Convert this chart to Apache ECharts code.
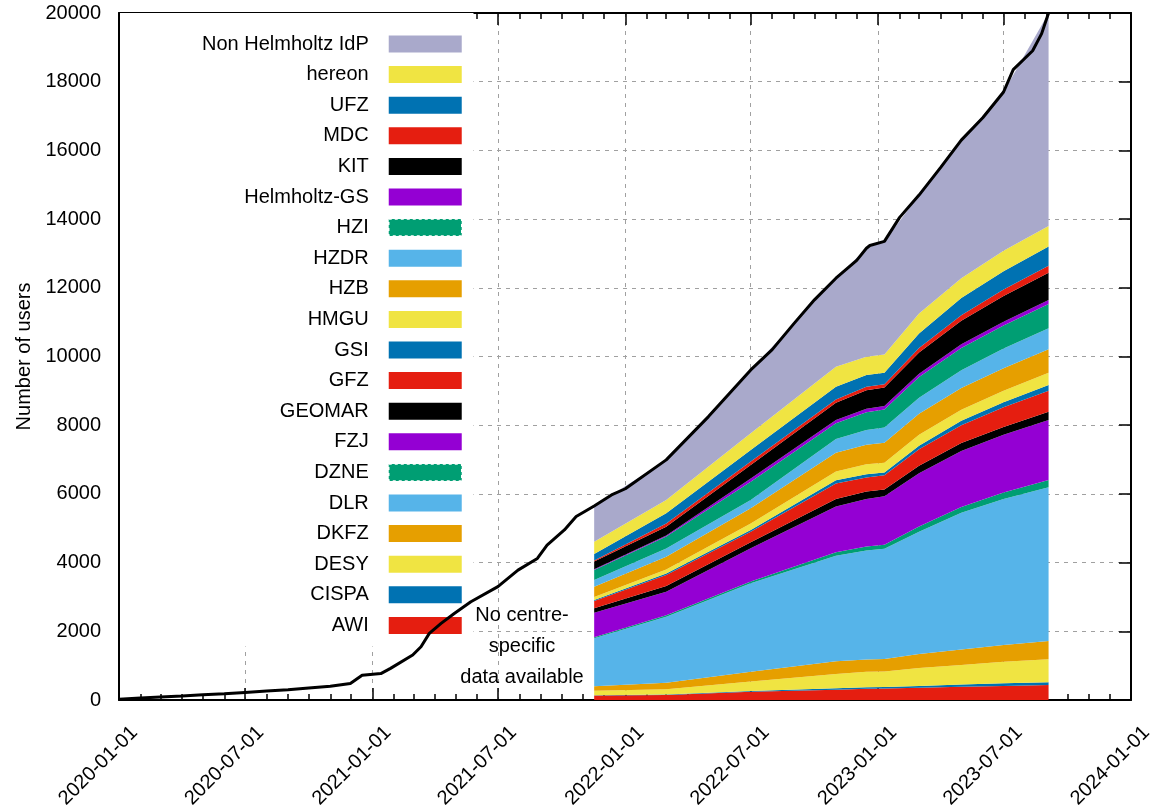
<!DOCTYPE html>
<html>
<head>
<meta charset="utf-8">
<script src="https://cdn.jsdelivr.net/npm/echarts@6/dist/echarts.min.js"></script>
<style>
  html, body { margin: 0; padding: 0; background: #fff; }
  #chart { width: 1150px; height: 812px; }
</style>
</head>
<body>
<div id="chart"></div>
<script>
// total number of users over time (black line)
const totalDates = [
  '2020-01-01', '2020-02-01', '2020-03-01', '2020-04-01', '2020-05-01', '2020-06-01',
  '2020-07-01', '2020-08-01', '2020-09-01', '2020-10-01', '2020-11-01', '2020-11-30',
  '2020-12-17', '2021-01-13', '2021-01-27', '2021-02-28', '2021-03-12', '2021-03-24',
  '2021-04-10', '2021-04-29', '2021-05-23', '2021-07-01', '2021-07-30', '2021-08-27',
  '2021-09-10', '2021-10-05', '2021-10-22', '2021-11-17', '2021-12-12', '2022-01-01',
  '2022-03-01', '2022-05-01', '2022-07-01', '2022-08-01', '2022-09-01', '2022-10-01',
  '2022-11-01', '2022-12-01', '2022-12-15', '2022-12-20', '2023-01-10', '2023-02-01',
  '2023-03-01', '2023-04-01', '2023-05-01', '2023-06-01', '2023-07-01', '2023-07-15',
  '2023-08-12', '2023-08-25', '2023-09-04'
]
const totalUsers = [
  20, 60, 90, 120, 150, 180,
  220, 260, 300, 350, 400, 480,
  720, 770, 920, 1310, 1550, 1940,
  2230, 2520, 2860, 3300, 3780, 4120,
  4510, 4950, 5340, 5650, 5970, 6150,
  6990, 8250, 9610, 10200, 10950, 11650,
  12280, 12800, 13150, 13230, 13350, 14050,
  14700, 15500, 16300, 16950, 17700, 18350,
  18900, 19400, 20000
]

// centre-specific users (stacked areas)
const stackDates = [
  '2021-11-17', '2022-03-01', '2022-07-01', '2022-11-01', '2022-12-15',
  '2023-01-10', '2023-03-01', '2023-05-01', '2023-07-01', '2023-09-04'
]
const awi = [130, 145, 243, 300, 330, 335, 360, 385, 410, 435]
const cispa = [10, 15, 17, 40, 40, 40, 50, 65, 75, 85]
const desy = [130, 150, 275, 420, 450, 455, 520, 570, 625, 665]
const dkfz = [130, 195, 290, 370, 360, 365, 410, 450, 490, 535]
const dlr = [1400, 1920, 2575, 3070, 3170, 3205, 3560, 3980, 4250, 4470]
const dzne = [30, 45, 50, 100, 120, 120, 150, 170, 190, 215]
const fzj = [710, 680, 965, 1330, 1380, 1410, 1550, 1630, 1680, 1745]
const geomar = [130, 170, 175, 220, 220, 200, 220, 230, 230, 245]
const gfz = [210, 320, 310, 450, 410, 410, 480, 520, 570, 605]
const gsi = [30, 40, 50, 100, 90, 80, 100, 130, 150, 170]
const hmgu = [90, 120, 190, 250, 290, 290, 320, 320, 330, 360]
const hzb = [300, 370, 440, 550, 570, 580, 610, 630, 660, 680]
const hzdr = [190, 240, 240, 400, 430, 440, 470, 520, 570, 610]
const hzi = [295, 350, 535, 455, 520, 530, 600, 650, 670, 710]
const helmholtzGs = [25, 30, 95, 95, 100, 100, 100, 110, 110, 115]
const kit = [220, 255, 390, 500, 540, 540, 620, 680, 750, 795]
const mdc = [30, 95, 100, 100, 100, 90, 130, 160, 190, 205]
const ufz = [190, 295, 340, 370, 340, 340, 420, 500, 530, 555]
const hereon = [360, 385, 485, 580, 530, 530, 580, 580, 600, 600]
const nonHelmholtz = [1040, 1170, 1845, 2580, 3160, 3290, 3450, 4020, 4620, 6200]

const centres = [
  ['AWI', awi], ['CISPA', cispa], ['DESY', desy], ['DKFZ', dkfz], ['DLR', dlr],
  ['DZNE', dzne], ['FZJ', fzj], ['GEOMAR', geomar], ['GFZ', gfz], ['GSI', gsi],
  ['HMGU', hmgu], ['HZB', hzb], ['HZDR', hzdr], ['HZI', hzi], ['Helmholtz-GS', helmholtzGs],
  ['KIT', kit], ['MDC', mdc], ['UFZ', ufz], ['hereon', hereon], ['Non Helmholtz IdP', nonHelmholtz]
]

// gnuplot-like colour cycle
const palette = ['#e51e10', '#0072b2', '#f0e442', '#e69f00', '#56b4e9', '#009e73', '#9400d3', '#000000']
const colorOf = (i) => (i === centres.length - 1 ? '#a9a9cb' : palette[i % palette.length])
// these two keys are drawn with a dashed edge in the original
const dashedKeys = ['DZNE', 'HZI']

const FONT = "'Liberation Sans', Arial, sans-serif"

const toTime = (s) => {
  const [y, m, d] = s.split('-').map(Number)
  return new Date(y, m - 1, d).getTime()
}

// tick positions: every month (minor), every half year (major)
const majorTicks = []
const minorTicks = []
for (let y = 2020; y <= 2024; y++) {
  for (let m = 0; m < 12; m++) {
    if (y === 2024 && m > 0) break
    const t = new Date(y, m, 1).getTime()
    minorTicks.push(t)
    if (m % 6 === 0) majorTicks.push(t)
  }
}
const xMin = majorTicks[0]
const xMax = majorTicks[majorTicks.length - 1]

const pad2 = (n) => (n < 10 ? '0' + n : '' + n)
const fmtDate = (v) => {
  const d = new Date(v)
  return d.getFullYear() + '-' + pad2(d.getMonth() + 1) + '-' + pad2(d.getDate())
}

const chart = echarts.init(document.getElementById('chart'), null, { renderer: 'canvas' })

const series = centres.map(([name, values], i) => ({
  name,
  type: 'line',
  stack: 'centres',
  symbol: 'none',
  showSymbol: false,
  lineStyle: { width: 0 },
  itemStyle: { color: colorOf(i) },
  areaStyle: { color: colorOf(i), opacity: 1 },
  emphasis: { disabled: true },
  data: stackDates.map((d, k) => [toTime(d), values[k]])
}))

series.push({
  name: 'total',
  type: 'line',
  symbol: 'none',
  showSymbol: false,
  z: 5,
  lineStyle: { color: '#000', width: 3 },
  itemStyle: { color: '#000' },
  emphasis: { disabled: true },
  data: totalDates.map((d, k) => [toTime(d), totalUsers[k]])
})

// value axes that only carry ticks / labels / grid on top of the time axis
const tickAxis = (position, length, values, extra) => ({
  type: 'value',
  position,
  min: xMin,
  max: xMax,
  axisLine: { onZero: false, show: false },
  axisTick: { show: true, inside: true, length, customValues: values, lineStyle: { color: '#000', width: 1.5 } },
  axisLabel: { show: false },
  splitLine: { show: false },
  axisPointer: { show: false },
  ...extra
})

const legendData = centres.map(c => c[0]).reverse().map(name => (
  dashedKeys.includes(name)
    ? { name, itemStyle: { borderColor: '#ffffff', borderWidth: 1.5, borderType: [3, 3] } }
    : { name }
))

const option = {
  animation: false,
  textStyle: { fontFamily: FONT },
  grid: { left: 119, right: 19, top: 13, bottom: 112, containLabel: false, outerBoundsMode: 'none' },
  legend: {
    data: legendData,
    orient: 'vertical',
    align: 'right',
    left: 120,
    top: 13,
    padding: [21, 11, 11, 82],
    backgroundColor: '#ffffff',
    itemWidth: 73,
    itemHeight: 17,
    itemGap: 10.6,
    icon: 'rect',
    selectedMode: false,
    itemStyle: { borderWidth: 0 },
    textStyle: { fontFamily: FONT, fontSize: 20, color: '#000', padding: [0, 15, 0, 0] }
  },
  xAxis: [
    {
      type: 'time',
      position: 'bottom',
      min: xMin,
      max: xMax,
      axisLine: { onZero: false, show: true, lineStyle: { color: '#000', width: 2 } },
      axisTick: { show: false },
      axisLabel: { show: false },
      splitLine: { show: false },
      axisPointer: { show: false }
    },
    tickAxis('bottom', 12, majorTicks, {
      axisLabel: {
        show: true,
        customValues: majorTicks,
        formatter: (v) => fmtDate(v),
        rotate: 45,
        margin: 14,
        verticalAlign: 'top',
        lineHeight: 44,
        fontSize: 20,
        fontFamily: FONT,
        color: '#000'
      },
      splitLine: { show: true, lineStyle: { color: '#a0a0a0', width: 1, type: [4, 5] } }
    }),
    tickAxis('top', 12, majorTicks, {
      axisLine: { onZero: false, show: true, lineStyle: { color: '#000', width: 2 } }
    }),
    tickAxis('bottom', 6, minorTicks),
    tickAxis('top', 6, minorTicks)
  ],
  yAxis: [
    {
      type: 'value',
      position: 'left',
      min: 0,
      max: 20000,
      interval: 2000,
      name: 'Number of users',
      nameLocation: 'middle',
      nameRotate: 90,
      nameGap: 85,
      nameTextStyle: { fontFamily: FONT, fontSize: 20, color: '#000' },
      axisLine: { show: true, onZero: false, lineStyle: { color: '#000', width: 2 } },
      axisTick: { show: true, inside: true, length: 12, lineStyle: { color: '#000', width: 1.5 } },
      axisLabel: { fontSize: 20, fontFamily: FONT, color: '#000', margin: 18, formatter: (v) => String(v) },
      splitLine: { show: true, lineStyle: { color: '#a0a0a0', width: 1, type: [4, 5] } }
    },
    {
      type: 'value',
      position: 'right',
      min: 0,
      max: 20000,
      interval: 2000,
      axisLine: { show: true, onZero: false, lineStyle: { color: '#000', width: 2 } },
      axisTick: { show: true, inside: true, length: 12, lineStyle: { color: '#000', width: 1.5 } },
      axisLabel: { show: false },
      splitLine: { show: false }
    }
  ],
  graphic: [
    {
      type: 'text',
      x: 522,
      y: 600,
      style: {
        text: 'No centre-\nspecific\ndata available',
        fontFamily: FONT,
        fontSize: 20,
        lineHeight: 31,
        fill: '#000',
        align: 'center',
        verticalAlign: 'top'
      },
      z: 10
    }
  ],
  series
}

chart.setOption(option)
</script>
</body>
</html>
